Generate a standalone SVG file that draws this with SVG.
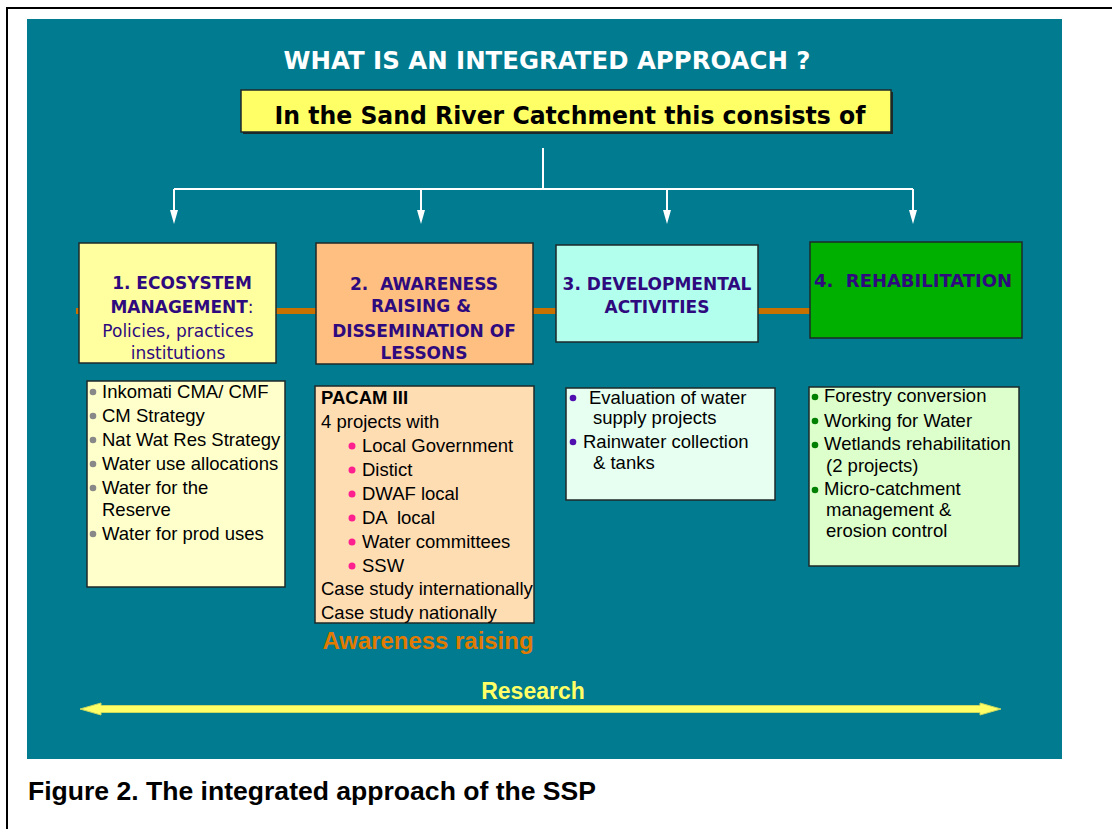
<svg xmlns="http://www.w3.org/2000/svg" width="1112" height="829" viewBox="0 0 1112 829">
<style>
text{white-space:pre}
.hd{font-family:"DejaVu Sans",Verdana,sans-serif;font-weight:bold;font-size:17px;fill:#2E0A7E;text-anchor:middle}
.hr{font-family:"DejaVu Sans",Verdana,sans-serif;font-size:17px;fill:#2E0A7E;text-anchor:middle}
.li{font-family:"Liberation Sans",Arial,sans-serif;font-size:18.5px;fill:#000}
.box{stroke:#1E2A2A;stroke-width:1.5}
.con{stroke:#fff;stroke-width:2;fill:none}
.ah{fill:#fff}
</style>
<rect width="1112" height="829" fill="#fff"/>
<path d="M7,829 V8 H1112" fill="none" stroke="#000" stroke-width="2"/>
<rect x="27" y="19" width="1035" height="740" fill="#007B8F"/>

<text x="547" y="69" font-family="DejaVu Sans,Verdana,sans-serif" font-weight="bold" font-size="24" fill="#fff" text-anchor="middle" textLength="527" lengthAdjust="spacingAndGlyphs">WHAT IS AN INTEGRATED APPROACH ?</text>

<g id="header">
<rect x="243" y="92" width="650" height="42" fill="#1E2A2A"/>
<rect x="241" y="90" width="650" height="42" fill="#FFFF66" class="box"/>
<text x="570" y="124" font-family="DejaVu Sans,Verdana,sans-serif" font-weight="bold" font-size="24" fill="#000" text-anchor="middle" textLength="591" lengthAdjust="spacingAndGlyphs">In the Sand River Catchment this consists of</text>
</g>

<g id="connectors">
<path class="con" d="M543,148 V189 M174,189 H913 M174,189 V212 M421,189 V212 M667,189 V212 M913,189 V212"/>
<polygon class="ah" points="170,210 178,210 174,224"/>
<polygon class="ah" points="417,210 425,210 421,224"/>
<polygon class="ah" points="663,210 671,210 667,224"/>
<polygon class="ah" points="909,210 917,210 913,224"/>
<path d="M76,311 H812" stroke="#C87000" stroke-width="6"/>
</g>

<g id="n1">
<rect x="79" y="243" width="197" height="120" fill="#FFFFA0" class="box"/>
<text class="hd" x="182" y="289">1. ECOSYSTEM</text>
<text class="hd" x="182" y="313">MANAGEMENT<tspan font-weight="normal">:</tspan></text>
<text class="hr" x="178" y="337">Policies, practices</text>
<text class="hr" x="178" y="359">institutions</text>
</g>

<g id="n2">
<rect x="316" y="243" width="217" height="121" fill="#FFBF80" class="box"/>
<text class="hd" x="424" y="290">2.  AWARENESS</text>
<text class="hd" x="421" y="312">RAISING &amp;</text>
<text class="hd" x="424" y="337">DISSEMINATION OF</text>
<text class="hd" x="424" y="359">LESSONS</text>
</g>

<g id="n3">
<rect x="556" y="245" width="202" height="97" fill="#B3FFEE" class="box"/>
<text class="hd" x="657" y="290">3. DEVELOPMENTAL</text>
<text class="hd" x="657" y="313">ACTIVITIES</text>
</g>

<g id="n4">
<rect x="810" y="242" width="212" height="96" fill="#00B000" class="box"/>
<text class="hd" x="913" y="287" textLength="198" lengthAdjust="spacingAndGlyphs">4.  REHABILITATION</text>
</g>

<g id="l1">
<rect x="87" y="381" width="198" height="206" fill="#FFFFCC" class="box"/>
<g fill="#888"><circle cx="93" cy="392" r="3.3"/><circle cx="93" cy="416" r="3.3"/><circle cx="93" cy="440" r="3.3"/><circle cx="93" cy="464" r="3.3"/><circle cx="93" cy="488" r="3.3"/><circle cx="93" cy="534" r="3.3"/></g>
<text class="li" x="102" y="398">Inkomati CMA/ CMF</text>
<text class="li" x="102" y="422">CM Strategy</text>
<text class="li" x="102" y="446">Nat Wat Res Strategy</text>
<text class="li" x="102" y="470">Water use allocations</text>
<text class="li" x="102" y="494">Water for the</text>
<text class="li" x="102" y="516">Reserve</text>
<text class="li" x="102" y="540">Water for prod uses</text>
</g>

<g id="l2">
<rect x="315" y="386" width="219" height="237" fill="#FFDDB3" class="box"/>
<g fill="#FF2090"><circle cx="352" cy="446" r="3.5"/><circle cx="352" cy="470" r="3.5"/><circle cx="352" cy="494" r="3.5"/><circle cx="352" cy="518" r="3.5"/><circle cx="352" cy="542" r="3.5"/><circle cx="352" cy="566" r="3.5"/></g>
<text class="li" x="321" y="404" font-weight="bold">PACAM III</text>
<text class="li" x="321" y="428">4 projects with</text>
<text class="li" x="362" y="452">Local Government</text>
<text class="li" x="362" y="476">Distict</text>
<text class="li" x="362" y="500">DWAF local</text>
<text class="li" x="362" y="524">DA  local</text>
<text class="li" x="362" y="548">Water committees</text>
<text class="li" x="362" y="572">SSW</text>
<text class="li" x="321" y="595">Case study internationally</text>
<text class="li" x="321" y="619">Case study nationally</text>
</g>

<text x="428" y="649" font-family="Liberation Sans,Arial,sans-serif" font-weight="bold" font-size="24" fill="#E07A00" text-anchor="middle" textLength="211" lengthAdjust="spacingAndGlyphs">Awareness raising</text>

<g id="l3">
<rect x="566" y="388" width="209" height="112" fill="#E6FFF0" class="box"/>
<g fill="#5010B0"><circle cx="573" cy="398" r="3.3"/><circle cx="573" cy="442" r="3.3"/></g>
<text class="li" x="589" y="404">Evaluation of water</text>
<text class="li" x="593" y="424">supply projects</text>
<text class="li" x="583" y="448">Rainwater collection</text>
<text class="li" x="593" y="469">&amp; tanks</text>
</g>

<g id="l4">
<rect x="809" y="387" width="210" height="179" fill="#DDFFCC" class="box"/>
<g fill="#008000"><circle cx="815" cy="397" r="3.3"/><circle cx="815" cy="421" r="3.3"/><circle cx="815" cy="445" r="3.3"/><circle cx="815" cy="490" r="3.3"/></g>
<text class="li" x="824" y="402">Forestry conversion</text>
<text class="li" x="824" y="427">Working for Water</text>
<text class="li" x="824" y="450">Wetlands rehabilitation</text>
<text class="li" x="826" y="472">(2 projects)</text>
<text class="li" x="824" y="495">Micro-catchment</text>
<text class="li" x="826" y="516">management &amp;</text>
<text class="li" x="826" y="537">erosion control</text>
</g>

<g id="research">
<text x="533" y="699" font-family="Liberation Sans,Arial,sans-serif" font-weight="bold" font-size="23" fill="#FFFF66" text-anchor="middle">Research</text>
<polygon points="80,709 101,703 101,705.5 980,705.5 980,703 1001,709 980,715 980,712.5 101,712.5 101,715" fill="#FFFF66" stroke="#C8D860" stroke-width="1"/>
</g>

<text x="28" y="800" font-family="Liberation Sans,Arial,sans-serif" font-weight="bold" font-size="26" fill="#000" textLength="568" lengthAdjust="spacingAndGlyphs">Figure 2. The integrated approach of the SSP</text>
</svg>
